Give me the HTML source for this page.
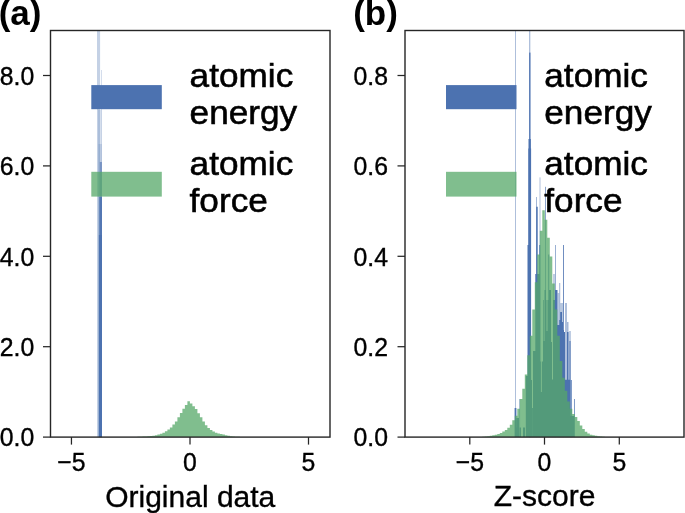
<!DOCTYPE html>
<html><head><meta charset="utf-8"><style>
html,body{margin:0;padding:0;background:#fff;width:685px;height:513px;overflow:hidden}
svg{display:block;will-change:transform}
text{font-family:"Liberation Sans", sans-serif;fill:#000;stroke:#000;stroke-width:0.35px}
text.b{stroke-width:0}
text.l{stroke-width:0.6px}
</style></head><body>
<svg width="685" height="513" viewBox="0 0 685 513">
<rect width="685" height="513" fill="#fff"/>
<g>
<rect x="97.00" y="30.50" width="3.10" height="406.60" fill="#4c72b0" fill-opacity="0.330"/>
<rect x="101.00" y="70.00" width="0.80" height="367.10" fill="#4c72b0" fill-opacity="0.300"/>
<rect x="98.00" y="110.00" width="3.50" height="327.10" fill="#4c72b0" fill-opacity="0.200"/>
<rect x="98.50" y="144.00" width="3.30" height="293.10" fill="#4c72b0" fill-opacity="0.200"/>
<rect x="99.80" y="162.00" width="2.10" height="275.10" fill="#4c72b0" fill-opacity="0.600"/>
<rect x="99.30" y="197.00" width="2.70" height="240.10" fill="#4c72b0" fill-opacity="0.850"/>
<rect x="98.90" y="235.00" width="3.10" height="202.10" fill="#4c72b0"/>
<path d="M127.40,437.1 L127.40,437.04 L129.90,437.04 L129.90,437.00 L132.40,437.00 L132.40,436.95 L134.90,436.95 L134.90,436.90 L137.40,436.90 L137.40,436.82 L139.90,436.82 L139.90,436.72 L142.40,436.72 L142.40,436.60 L144.90,436.60 L144.90,436.48 L147.40,436.48 L147.40,436.25 L149.90,436.25 L149.90,436.00 L152.40,436.00 L152.40,435.65 L154.90,435.65 L154.90,435.20 L157.40,435.20 L157.40,434.50 L159.90,434.50 L159.90,433.80 L162.40,433.80 L162.40,432.70 L164.90,432.70 L164.90,431.20 L167.40,431.20 L167.40,429.60 L169.90,429.60 L169.90,427.40 L172.40,427.40 L172.40,424.40 L174.90,424.40 L174.90,421.40 L177.40,421.40 L177.40,417.30 L179.90,417.30 L179.90,413.10 L182.40,413.10 L182.40,408.80 L184.90,408.80 L184.90,405.10 L187.40,405.10 L187.40,401.20 L189.90,401.20 L189.90,403.40 L192.40,403.40 L192.40,406.20 L194.90,406.20 L194.90,409.10 L197.40,409.10 L197.40,413.30 L199.90,413.30 L199.90,417.30 L202.40,417.30 L202.40,421.40 L204.90,421.40 L204.90,425.30 L207.40,425.30 L207.40,427.90 L209.90,427.90 L209.90,429.90 L212.40,429.90 L212.40,431.60 L214.90,431.60 L214.90,432.70 L217.40,432.70 L217.40,433.50 L219.90,433.50 L219.90,434.00 L222.40,434.00 L222.40,434.60 L224.90,434.60 L224.90,435.30 L227.40,435.30 L227.40,435.83 L229.90,435.83 L229.90,436.27 L232.40,436.27 L232.40,436.55 L234.90,436.55 L234.90,436.73 L237.40,436.73 L237.40,436.83 L239.90,436.83 L239.90,436.90 L242.40,436.90 L242.40,436.95 L244.90,436.95 L244.90,437.00 L247.40,437.00 L247.40,437.04 L249.90,437.04 L249.90,437.1 Z" fill="#55a868" fill-opacity="0.75"/>
</g>
<rect x="515.00" y="30.50" width="1.00" height="406.60" fill="#4c72b0" fill-opacity="0.450"/>
<rect x="519.40" y="399.00" width="0.70" height="38.10" fill="#4c72b0" fill-opacity="0.700"/>
<rect x="529.10" y="30.50" width="1.20" height="406.60" fill="#4c72b0" fill-opacity="0.500"/>
<rect x="529.10" y="52.60" width="1.40" height="384.50" fill="#4c72b0" fill-opacity="0.900"/>
<rect x="536.00" y="197.00" width="1.00" height="240.10" fill="#4c72b0" fill-opacity="0.500"/>
<rect x="539.50" y="177.40" width="1.00" height="259.70" fill="#4c72b0" fill-opacity="0.450"/>
<rect x="545.20" y="186.80" width="0.80" height="250.30" fill="#4c72b0" fill-opacity="0.800"/>
<rect x="553.00" y="274.00" width="2.10" height="163.10" fill="#4c72b0" fill-opacity="0.350"/>
<rect x="555.20" y="245.00" width="0.80" height="192.10" fill="#4c72b0" fill-opacity="0.700"/>
<rect x="557.50" y="293.00" width="1.80" height="144.10" fill="#4c72b0" fill-opacity="0.400"/>
<rect x="559.30" y="283.00" width="0.90" height="154.10" fill="#4c72b0" fill-opacity="0.600"/>
<rect x="560.20" y="303.00" width="1.80" height="134.10" fill="#4c72b0" fill-opacity="0.400"/>
<rect x="562.00" y="303.00" width="1.00" height="134.10" fill="#4c72b0" fill-opacity="0.400"/>
<rect x="563.00" y="245.00" width="1.00" height="192.10" fill="#4c72b0" fill-opacity="0.800"/>
<rect x="565.00" y="303.00" width="2.00" height="134.10" fill="#4c72b0" fill-opacity="0.450"/>
<rect x="567.00" y="322.00" width="1.50" height="115.10" fill="#4c72b0" fill-opacity="0.500"/>
<rect x="569.50" y="331.00" width="1.00" height="106.10" fill="#4c72b0" fill-opacity="0.700"/>
<rect x="570.50" y="380.00" width="1.50" height="57.10" fill="#4c72b0" fill-opacity="0.700"/>
<rect x="574.00" y="399.00" width="1.00" height="38.10" fill="#4c72b0" fill-opacity="0.700"/>
<path d="M514.60,437.1 L514.60,408.00 L515.50,408.00 L515.50,408.00 L516.40,408.00 L516.40,427.60 L516.50,427.60 L516.50,418.00 L517.50,418.00 L517.50,418.00 L519.00,418.00 L519.00,437.1 Z M519.50,437.1 L519.50,427.60 L521.00,427.60 L521.00,437.1 Z M523.00,437.1 L523.00,427.60 L525.00,427.60 L525.00,437.1 Z M525.80,437.1 L525.80,376.00 L527.50,376.00 L527.50,245.00 L528.20,245.00 L528.20,148.60 L528.50,148.60 L528.50,139.00 L530.80,139.00 L530.80,148.60 L531.00,148.60 L531.00,148.60 L531.10,148.60 L531.10,380.00 L532.00,380.00 L532.00,437.1 Z M532.10,437.1 L532.10,408.00 L533.00,408.00 L533.00,351.00 L535.30,351.00 L535.30,274.00 L536.20,274.00 L536.20,206.70 L537.70,206.70 L537.70,274.00 L539.30,274.00 L539.30,245.00 L540.30,245.00 L540.30,361.50 L540.90,361.50 L540.90,392.00 L541.80,392.00 L541.80,361.50 L543.00,361.50 L543.00,300.00 L543.70,300.00 L543.70,341.00 L544.50,341.00 L544.50,290.00 L545.00,290.00 L545.00,290.00 L546.00,290.00 L546.00,300.00 L546.50,300.00 L546.50,331.00 L547.50,331.00 L547.50,300.00 L548.30,300.00 L548.30,254.60 L549.20,254.60 L549.20,290.00 L551.00,290.00 L551.00,342.00 L552.00,342.00 L552.00,379.50 L553.00,379.50 L553.00,300.00 L555.00,300.00 L555.00,290.00 L557.50,290.00 L557.50,325.00 L559.30,325.00 L559.30,320.00 L560.20,320.00 L560.20,312.00 L562.00,312.00 L562.00,322.00 L563.00,322.00 L563.00,330.00 L564.00,330.00 L564.00,332.00 L565.00,332.00 L565.00,379.80 L567.00,379.80 L567.00,332.00 L568.50,332.00 L568.50,379.80 L569.50,379.80 L569.50,341.00 L570.50,341.00 L570.50,416.00 L574.30,416.00 L574.30,437.1 Z" fill="#4c72b0"/>
<path d="M482.30,437.1 L482.30,436.71 L484.80,436.71 L484.80,436.46 L487.30,436.46 L487.30,436.13 L489.80,436.13 L489.80,435.81 L492.30,435.81 L492.30,435.29 L494.80,435.29 L494.80,434.65 L497.30,434.65 L497.30,433.88 L499.80,433.88 L499.80,433.10 L502.30,433.10 L502.30,431.62 L504.80,431.62 L504.80,430.00 L507.30,430.00 L507.30,427.75 L509.80,427.75 L509.80,424.85 L512.30,424.85 L512.30,420.33 L514.80,420.33 L514.80,415.81 L517.30,415.81 L517.30,408.72 L519.80,408.72 L519.80,399.05 L522.30,399.05 L522.30,388.73 L524.80,388.73 L524.80,374.54 L527.30,374.54 L527.30,355.19 L529.80,355.19 L529.80,335.84 L532.30,335.84 L532.30,309.39 L534.80,309.39 L534.80,282.30 L537.30,282.30 L537.30,254.57 L539.80,254.57 L539.80,230.70 L542.30,230.70 L542.30,210.30 L544.80,210.30 L544.80,219.73 L547.30,219.73 L547.30,237.80 L549.80,237.80 L549.80,256.50 L552.30,256.50 L552.30,283.59 L554.80,283.59 L554.80,309.39 L557.30,309.39 L557.30,335.84 L559.80,335.84 L559.80,360.99 L562.30,360.99 L562.30,377.76 L564.80,377.76 L564.80,390.66 L567.30,390.66 L567.30,401.62 L569.80,401.62 L569.80,408.72 L572.30,408.72 L572.30,413.88 L574.80,413.88 L574.80,417.11 L577.30,417.11 L577.30,420.98 L579.80,420.98 L579.80,425.49 L582.30,425.49 L582.30,428.91 L584.80,428.91 L584.80,431.75 L587.30,431.75 L587.30,433.55 L589.80,433.55 L589.80,434.71 L592.30,434.71 L592.30,435.36 L594.80,435.36 L594.80,435.81 L597.30,435.81 L597.30,436.13 L599.80,436.13 L599.80,436.46 L602.30,436.46 L602.30,436.71 L604.80,436.71 L604.80,437.1 Z" fill="#55a868" fill-opacity="0.75"/>
<rect x="91.30" y="85.10" width="70.50" height="24.10" fill="#4c72b0"/>
<rect x="91.30" y="171.80" width="70.50" height="24.80" fill="#55a868" fill-opacity="0.750"/>
<rect x="446.00" y="85.10" width="70.50" height="24.10" fill="#4c72b0"/>
<rect x="446.00" y="171.80" width="70.50" height="24.80" fill="#55a868" fill-opacity="0.750"/>
<rect x="50.5" y="30.5" width="279.5" height="406.6" fill="none" stroke="#262626" stroke-width="1.4"/>
<rect x="405.0" y="30.5" width="279.0" height="406.6" fill="none" stroke="#262626" stroke-width="1.4"/>
<line x1="43.0" y1="437.10" x2="50.5" y2="437.10" stroke="#262626" stroke-width="1.25"/>
<line x1="43.0" y1="346.70" x2="50.5" y2="346.70" stroke="#262626" stroke-width="1.25"/>
<line x1="43.0" y1="256.30" x2="50.5" y2="256.30" stroke="#262626" stroke-width="1.25"/>
<line x1="43.0" y1="165.90" x2="50.5" y2="165.90" stroke="#262626" stroke-width="1.25"/>
<line x1="43.0" y1="75.50" x2="50.5" y2="75.50" stroke="#262626" stroke-width="1.25"/>
<line x1="397.5" y1="437.10" x2="405.0" y2="437.10" stroke="#262626" stroke-width="1.25"/>
<line x1="397.5" y1="346.70" x2="405.0" y2="346.70" stroke="#262626" stroke-width="1.25"/>
<line x1="397.5" y1="256.30" x2="405.0" y2="256.30" stroke="#262626" stroke-width="1.25"/>
<line x1="397.5" y1="165.90" x2="405.0" y2="165.90" stroke="#262626" stroke-width="1.25"/>
<line x1="397.5" y1="75.50" x2="405.0" y2="75.50" stroke="#262626" stroke-width="1.25"/>
<line x1="71.45" y1="437.1" x2="71.45" y2="444.6" stroke="#262626" stroke-width="1.25"/>
<line x1="190.0" y1="437.1" x2="190.0" y2="444.6" stroke="#262626" stroke-width="1.25"/>
<line x1="308.5" y1="437.1" x2="308.5" y2="444.6" stroke="#262626" stroke-width="1.25"/>
<line x1="469.8" y1="437.1" x2="469.8" y2="444.6" stroke="#262626" stroke-width="1.25"/>
<line x1="544.5" y1="437.1" x2="544.5" y2="444.6" stroke="#262626" stroke-width="1.25"/>
<line x1="619.3" y1="437.1" x2="619.3" y2="444.6" stroke="#262626" stroke-width="1.25"/>
<text transform="translate(34.20,445.60) scale(1,1.07)" font-size="24.8" text-anchor="end" font-weight="normal">0.0</text>
<text transform="translate(34.20,355.60) scale(1,1.07)" font-size="24.8" text-anchor="end" font-weight="normal">2.0</text>
<text transform="translate(34.20,265.70) scale(1,1.07)" font-size="24.8" text-anchor="end" font-weight="normal">4.0</text>
<text transform="translate(34.20,175.40) scale(1,1.07)" font-size="24.8" text-anchor="end" font-weight="normal">6.0</text>
<text transform="translate(34.20,85.10) scale(1,1.07)" font-size="24.8" text-anchor="end" font-weight="normal">8.0</text>
<text transform="translate(388.00,445.60) scale(1,1.07)" font-size="24.8" text-anchor="end" font-weight="normal">0.0</text>
<text transform="translate(388.00,355.60) scale(1,1.07)" font-size="24.8" text-anchor="end" font-weight="normal">0.2</text>
<text transform="translate(388.00,265.70) scale(1,1.07)" font-size="24.8" text-anchor="end" font-weight="normal">0.4</text>
<text transform="translate(388.00,175.40) scale(1,1.07)" font-size="24.8" text-anchor="end" font-weight="normal">0.6</text>
<text transform="translate(388.00,85.10) scale(1,1.07)" font-size="24.8" text-anchor="end" font-weight="normal">0.8</text>
<text transform="translate(71.45,471.20) scale(1,1.07)" font-size="24.8" text-anchor="middle" font-weight="normal">−5</text>
<text transform="translate(190.00,471.20) scale(1,1.07)" font-size="24.8" text-anchor="middle" font-weight="normal">0</text>
<text transform="translate(308.50,471.20) scale(1,1.07)" font-size="24.8" text-anchor="middle" font-weight="normal">5</text>
<text transform="translate(469.80,471.20) scale(1,1.07)" font-size="24.8" text-anchor="middle" font-weight="normal">−5</text>
<text transform="translate(544.50,471.20) scale(1,1.07)" font-size="24.8" text-anchor="middle" font-weight="normal">0</text>
<text transform="translate(619.30,471.20) scale(1,1.07)" font-size="24.8" text-anchor="middle" font-weight="normal">5</text>
<text x="190.25" y="506.50" font-size="30" text-anchor="middle" font-weight="normal">Original data</text>
<text x="544.50" y="506.00" font-size="30" text-anchor="middle" font-weight="normal">Z-score</text>
<text class="l" transform="translate(189.60,87.40) scale(1,0.97)" font-size="35.2" text-anchor="start" font-weight="normal">atomic</text>
<text class="l" transform="translate(189.60,123.90) scale(1,0.97)" font-size="35.2" text-anchor="start" font-weight="normal">energy</text>
<text class="l" transform="translate(189.60,174.80) scale(1,0.97)" font-size="35.2" text-anchor="start" font-weight="normal">atomic</text>
<text class="l" transform="translate(189.60,211.80) scale(1,0.97)" font-size="35.2" text-anchor="start" font-weight="normal">force</text>
<text class="l" transform="translate(544.30,87.40) scale(1,0.97)" font-size="35.2" text-anchor="start" font-weight="normal">atomic</text>
<text class="l" transform="translate(544.30,123.90) scale(1,0.97)" font-size="35.2" text-anchor="start" font-weight="normal">energy</text>
<text class="l" transform="translate(544.30,174.80) scale(1,0.97)" font-size="35.2" text-anchor="start" font-weight="normal">atomic</text>
<text class="l" transform="translate(544.30,211.80) scale(1,0.97)" font-size="35.2" text-anchor="start" font-weight="normal">force</text>
<text class="b" x="-1.30" y="24.90" font-size="35" text-anchor="start" font-weight="bold">(a)</text>
<text class="b" x="353.20" y="24.90" font-size="35" text-anchor="start" font-weight="bold">(b)</text>
</svg>
</body></html>
